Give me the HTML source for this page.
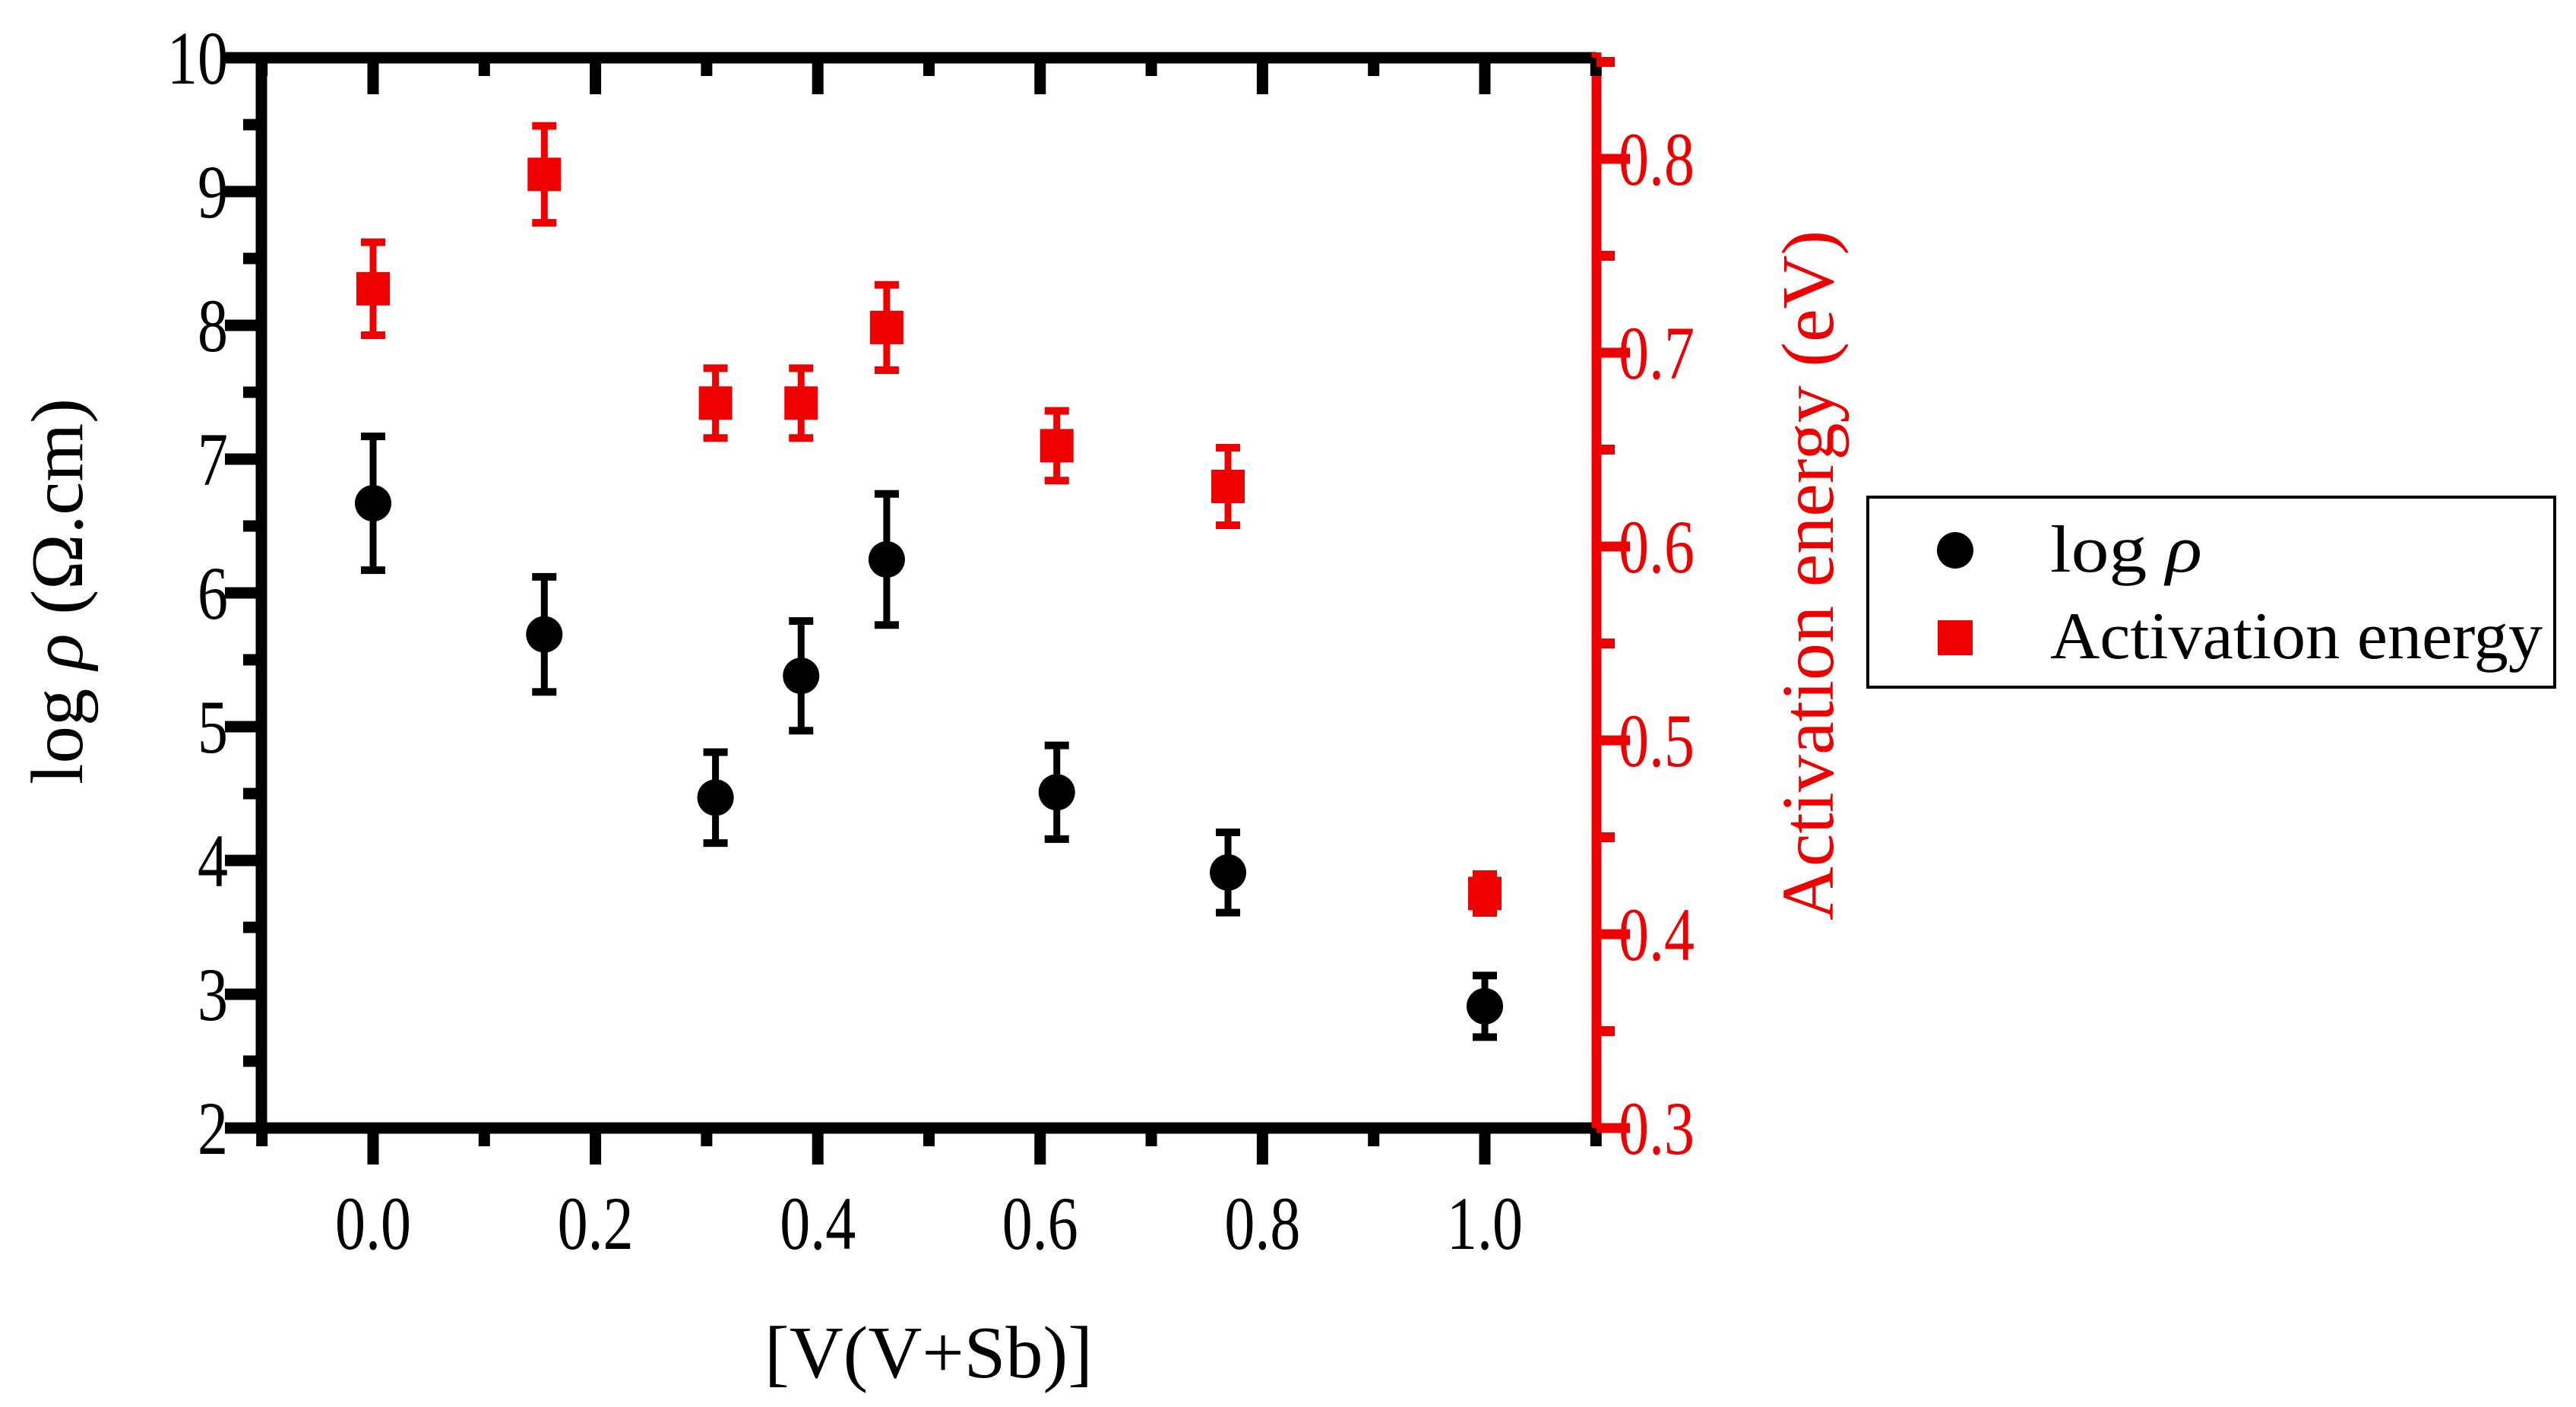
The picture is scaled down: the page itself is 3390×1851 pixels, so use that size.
<!DOCTYPE html>
<html><head><meta charset="utf-8"><style>
html,body{margin:0;padding:0;background:#fff;}
svg{display:block;font-family:"Liberation Serif",serif;}
</style></head><body>
<svg id="chart" width="3390" height="1851" viewBox="0 0 3390 1851" xmlns="http://www.w3.org/2000/svg">
<g id="axes"></g>
<g id="marks"></g>
<g id="legend">
  <rect x="2458" y="654" width="904" height="250" fill="#fff" stroke="#000" stroke-width="4"/>
  <circle cx="2573" cy="724" r="24" fill="#000"/>
  <text x="2698" y="752" font-size="88" textLength="200" lengthAdjust="spacingAndGlyphs">log <tspan font-style="italic">ρ</tspan></text>
  <rect x="2550" y="816" width="46" height="46" fill="#e00"/>
  <text x="2698" y="866" font-size="88" textLength="648" lengthAdjust="spacingAndGlyphs">Activation energy</text>
</g>
<text x="1222" y="1812" font-size="98" text-anchor="middle" textLength="432" lengthAdjust="spacingAndGlyphs">[V(V+Sb)]</text>
<text transform="translate(108,778) rotate(-90)" font-size="98" text-anchor="middle" textLength="508" lengthAdjust="spacingAndGlyphs">log <tspan font-style="italic">ρ</tspan> (Ω.cm)</text>
<text transform="translate(2412,757) rotate(-90)" font-size="98" text-anchor="middle" fill="#e00" textLength="908" lengthAdjust="spacingAndGlyphs">Activation energy (eV)</text>
</svg>
<script>
const xCats = [0, 0.154, 0.308, 0.385, 0.462, 0.615, 0.769, 1.0];
const logRho = [6.67, 5.69, 4.47, 5.38, 6.25, 4.51, 3.91, 2.91];
const logRhoErr = [0.5, 0.43, 0.34, 0.41, 0.49, 0.35, 0.3, 0.23];
const actEnergy = [0.733, 0.792, 0.674, 0.674, 0.713, 0.652, 0.631, 0.421];
const actEnergyErr = [0.024, 0.025, 0.018, 0.018, 0.022, 0.018, 0.02, 0.01];
const xTicks = [0, 0.2, 0.4, 0.6, 0.8, 1.0];
const xTickLabels = ["0.0", "0.2", "0.4", "0.6", "0.8", "1.0"];
const yLeftTicks = [2, 3, 4, 5, 6, 7, 8, 9, 10];
const yRightTicks = [0.3, 0.4, 0.5, 0.6, 0.7, 0.8];
const yRightTickLabels = ["0.3", "0.4", "0.5", "0.6", "0.7", "0.8"];

const NS = "http://www.w3.org/2000/svg";
const L = 344, R = 2101, T = 76, B = 1484;
const xs = v => 491 + v * 1463;
const yl = v => B - (v - 2) * (B - T) / 8;
const yr = v => B - (v - 0.3) * 2550;
const axes = document.getElementById("axes");
const marks = document.getElementById("marks");
function mk(tag, attrs, parent) {
  const e = document.createElementNS(NS, tag);
  for (const k in attrs) e.setAttribute(k, attrs[k]);
  parent.appendChild(e);
  return e;
}
function label(x, y, txt, anchor, fill) {
  const t = mk("text", {x: 0, y: 0, "font-size": 100, "text-anchor": anchor, fill: fill,
    transform: "translate(" + x + "," + y + ") scale(0.8,1)"}, axes);
  t.textContent = txt;
  return t;
}
let e;
e = mk("line", {x1: L - 7, y1: T, x2: R, y2: T, stroke: "#000", "stroke-width": 15}, axes);
 
e = mk("line", {x1: L - 7, y1: B, x2: R, y2: B, stroke: "#000", "stroke-width": 15}, axes);
 
e = mk("line", {x1: L, y1: T - 7, x2: L, y2: B + 7, stroke: "#000", "stroke-width": 15}, axes);
 
e = mk("line", {x1: R, y1: T - 7, x2: R, y2: B + 7, stroke: "#e00", "stroke-width": 13}, axes);
 
for (let v = -0.1; v <= 1.101; v += 0.1) {
  const major = xTicks.some(t => Math.abs(t - v) < 1e-6);
  const x = xs(v);
  e = mk("line", {x1: x, y1: B, x2: x, y2: B + (major ? 48 : 24), stroke: "#000", "stroke-width": 15}, axes);
   
  e = mk("line", {x1: x, y1: T, x2: x, y2: T + (major ? 48 : 24), stroke: "#000", "stroke-width": 15}, axes);
   
}
xTicks.forEach((v, i) => {
  e = label(xs(v), 1643, xTickLabels[i], "middle", "#000");
   
});
for (let v = 2; v <= 10.01; v += 0.5) {
  const major = Math.abs(v - Math.round(v)) < 1e-6;
  e = mk("line", {x1: L - (major ? 48 : 24), y1: yl(v), x2: L, y2: yl(v), stroke: "#000", "stroke-width": 15}, axes);
   
}
yLeftTicks.forEach(v => {
  e = label(300, yl(v) + 34, String(v), "end", "#000");
   
});
for (let v = 0.3; v <= 0.851; v += 0.05) {
  const major = Math.abs(v * 10 - Math.round(v * 10)) < 1e-6;
  e = mk("line", {x1: R, y1: yr(v), x2: R + (major ? 44 : 24), y2: yr(v), stroke: "#e00", "stroke-width": 13}, axes);
   
}
yRightTicks.forEach((v, i) => {
  e = label(2130, yr(v) + 34, yRightTickLabels[i], "start", "#e00");
   
});
function errbar(x, y1, y2, color, name) {
  const g = mk("g", {}, marks);
   
  mk("line", {x1: x, y1: y1, x2: x, y2: y2, stroke: color, "stroke-width": 9}, g);
  mk("line", {x1: x - 16, y1: y1, x2: x + 16, y2: y1, stroke: color, "stroke-width": 10}, g);
  mk("line", {x1: x - 16, y1: y2, x2: x + 16, y2: y2, stroke: color, "stroke-width": 10}, g);
}
xCats.forEach((xv, i) => {
  const x = xs(xv);
  errbar(x, yr(actEnergy[i] + actEnergyErr[i]), yr(actEnergy[i] - actEnergyErr[i]), "#e00", "activation-energy-error-bar");
  e = mk("rect", {x: x - 22, y: yr(actEnergy[i]) - 22, width: 44, height: 44, fill: "#e00"}, marks);
   
  errbar(x, yl(logRho[i] + logRhoErr[i]), yl(logRho[i] - logRhoErr[i]), "#000", "log-rho-error-bar");
  e = mk("circle", {cx: x, cy: yl(logRho[i]), r: 24, fill: "#000"}, marks);
   
});
</script>
</body></html>
